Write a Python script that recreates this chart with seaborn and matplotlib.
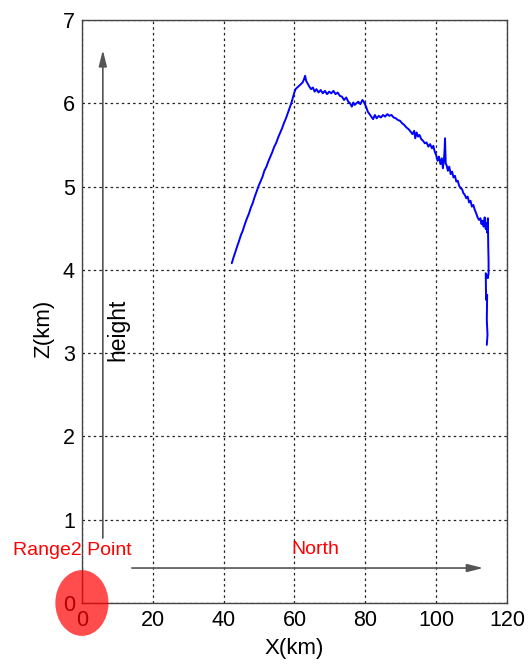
import matplotlib
matplotlib.use("Agg")
import matplotlib.pyplot as plt
from matplotlib.patches import Ellipse
import pandas as pd
import seaborn as sns

# Trajectory: horizontal range X (km) and height Z (km)
x_km = [42.3, 42.8, 43.2, 43.8, 44.3, 44.9, 45.4, 46.0, 46.6, 47.1,
        47.7, 48.2, 48.8, 49.3, 49.9, 50.4, 51.0, 51.5, 52.1, 52.6,
        53.2, 53.7, 54.3, 54.8, 55.4, 55.9, 56.5, 57.0, 57.6, 58.1,
        58.6, 59.1, 59.5, 59.9, 60.3, 60.8, 61.3, 61.8, 62.3, 62.7,
        63.0, 63.3, 63.7, 64.2, 64.7, 65.2, 65.7, 66.2, 66.8, 67.4,
        68.0, 68.6, 69.2, 69.8, 70.4, 71.0, 71.6, 72.2, 72.8, 73.4,
        74.0, 74.6, 75.2, 75.7, 76.2, 76.6, 77.0, 77.5, 78.0, 78.6,
        79.2, 79.7, 80.2, 80.7, 81.2, 81.7, 82.2, 82.7, 83.2, 83.8,
        84.4, 85.0, 85.6, 86.2, 86.8, 87.4, 88.0, 88.6, 89.2, 89.8,
        90.4, 91.0, 91.6, 92.2, 92.8, 93.3, 93.8, 94.1, 94.5, 94.9,
        95.3, 95.8, 96.3, 96.8, 97.3, 97.8, 98.3, 98.8, 99.2, 99.6,
        100.0, 100.4, 100.8, 101.2, 101.6, 101.9, 102.2, 102.4, 102.5, 102.7,
        103.0, 103.3, 103.7, 104.1, 104.5, 104.9, 105.3, 105.7, 106.1, 106.5,
        106.9, 107.3, 107.7, 108.1, 108.5, 108.9, 109.3, 109.7, 110.1, 110.5,
        110.9, 111.3, 111.7, 112.1, 112.5, 112.8, 113.1, 113.4, 113.7, 114.0,
        114.2, 114.4, 114.6, 114.7, 114.8, 114.8, 114.6, 114.0, 114.1, 114.4,
        114.3, 114.5, 114.3]
z_km = [4.08, 4.15, 4.20, 4.28, 4.34, 4.42, 4.47, 4.55, 4.62, 4.67,
        4.75, 4.80, 4.88, 4.94, 5.01, 5.06, 5.12, 5.19, 5.24, 5.30,
        5.36, 5.41, 5.48, 5.52, 5.59, 5.64, 5.70, 5.76, 5.82, 5.88,
        5.94, 6.00, 6.06, 6.12, 6.17, 6.19, 6.21, 6.23, 6.25, 6.29,
        6.33, 6.27, 6.24, 6.20, 6.17, 6.19, 6.14, 6.17, 6.13, 6.16,
        6.12, 6.15, 6.11, 6.14, 6.12, 6.15, 6.11, 6.13, 6.09, 6.08,
        6.04, 6.07, 6.02, 6.00, 5.96, 6.01, 5.98, 6.00, 6.02, 5.99,
        6.04, 6.01, 5.96, 5.90, 5.87, 5.84, 5.81, 5.86, 5.82, 5.85,
        5.83, 5.86, 5.84, 5.87, 5.85, 5.86, 5.83, 5.82, 5.80, 5.79,
        5.76, 5.74, 5.71, 5.69, 5.66, 5.63, 5.67, 5.58, 5.65, 5.60,
        5.62, 5.57, 5.55, 5.52, 5.53, 5.48, 5.51, 5.46, 5.49, 5.42,
        5.38, 5.31, 5.36, 5.27, 5.34, 5.22, 5.32, 5.46, 5.58, 5.28,
        5.25, 5.19, 5.24, 5.15, 5.18, 5.11, 5.13, 5.06, 5.07, 5.01,
        4.98, 4.97, 4.92, 4.90, 4.86, 4.88, 4.81, 4.83, 4.76, 4.78,
        4.72, 4.68, 4.63, 4.60, 4.62, 4.55, 4.59, 4.52, 4.63, 4.49,
        4.56, 4.45, 4.62, 4.30, 4.10, 3.96, 3.90, 3.96, 3.64, 3.70,
        3.40, 3.22, 3.10]

x_ticks = [0, 20, 40, 60, 80, 100, 120]
z_ticks = [0, 1, 2, 3, 4, 5, 6, 7]

df = pd.DataFrame({"X": x_km, "Z": z_km})

sns.set_theme(style="white")
plt.rcParams["font.family"] = ["Liberation Sans", "DejaVu Sans"]

fig = plt.figure(figsize=(5.32, 6.68), dpi=100)
ax = fig.add_axes([0.154, 0.0973, 0.799, 0.8727])

sns.lineplot(data=df, x="X", y="Z", sort=False, estimator=None,
             color="#0000ff", linewidth=1.4, ax=ax)

ax.set_xlim(0, 120)
ax.set_ylim(0, 7)
ax.set_xticks(x_ticks)
ax.set_yticks(z_ticks)
ax.set_xticklabels([str(t) for t in x_ticks])
ax.set_yticklabels([str(t) for t in z_ticks])
ax.tick_params(axis="both", direction="in", length=4, width=0.8,
               labelsize=15.5, colors="#222222", pad=5)
for lab in ax.get_xticklabels() + ax.get_yticklabels():
    lab.set_color("black")

ax.grid(True, linestyle=(0, (2, 2.5)), color="#222222", linewidth=0.9)
for sp in ax.spines.values():
    sp.set_color("#444444")
    sp.set_linewidth(1.0)
    sp.set_visible(True)

ax.set_xlabel("X(km)", fontsize=16, color="black", labelpad=5)
ax.set_ylabel("Z(km)", fontsize=16, color="black")
ax.yaxis.set_label_coords(-0.065, 0.47)

# direction arrows
arrow_style = dict(arrowstyle="-|>,head_length=0.8,head_width=0.2",
                   color="#555555", lw=1.2, shrinkA=0, shrinkB=0)
ax.annotate("", xy=(5.9, 6.64), xytext=(5.9, 0.78), arrowprops=arrow_style)
ax.annotate("", xy=(113.3, 0.42), xytext=(14.1, 0.42), arrowprops=arrow_style)

ax.text(10.2, 3.28, "height", rotation=90, fontsize=16.5, color="black",
        ha="center", va="center")
ax.text(59.0, 0.64, "North", fontsize=14, color="red", ha="left", va="center")
ax.text(-19.5, 0.63, "Range2 Point", fontsize=14, color="red",
        ha="left", va="center", clip_on=False)

# origin marker
ax.add_patch(Ellipse((0, 0), width=15.0, height=0.79, facecolor="red",
                     edgecolor="none", alpha=0.7, clip_on=False, zorder=10))

fig.savefig("out.png", dpi=100)
